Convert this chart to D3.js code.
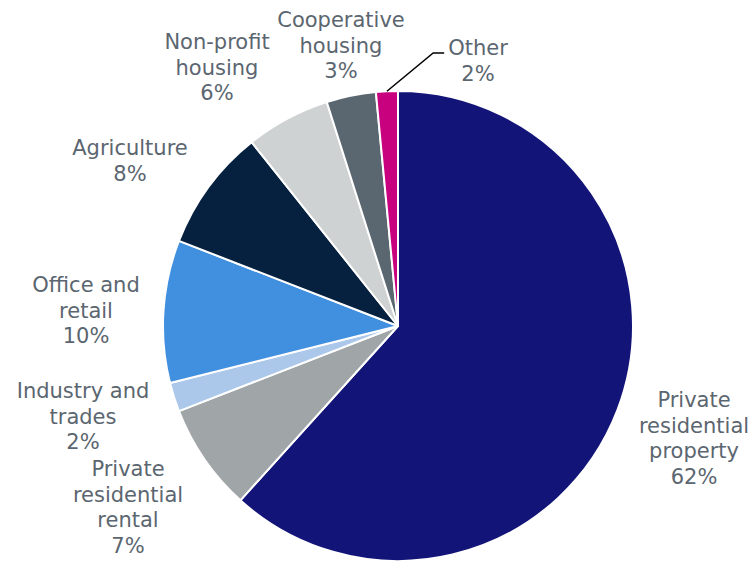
<!DOCTYPE html>
<html>
<head>
<meta charset="utf-8">
<script src="https://cdn.jsdelivr.net/npm/d3@7"></script>
<style>
  html, body { margin: 0; padding: 0; background: #fff; }
  svg { display: block; }
</style>
</head>
<body>
<svg id="chart" width="754" height="562"></svg>
<script>
// Share of buildings by owner category (per cent), clockwise from 12 o'clock
const categories = [
  "Private residential property",
  "Private residential rental",
  "Industry and trades",
  "Office and retail",
  "Agriculture",
  "Non-profit housing",
  "Cooperative housing",
  "Other"
];
const shares = [61.7, 7.4, 2.0, 9.8, 8.4, 5.8, 3.4, 1.5];
// Line breaks used for each category label
const labelLines = [
  ["Private", "residential", "property"],
  ["Private", "residential", "rental"],
  ["Industry and", "trades"],
  ["Office and", "retail"],
  ["Agriculture"],
  ["Non-profit", "housing"],
  ["Cooperative", "housing"],
  ["Other"]
];

// ---- layout & style ----
const sliceColors = ["#131478", "#a0a5a8", "#abc8ea", "#418fdf", "#06203f", "#cfd2d3", "#5b6770", "#c8017e"];
// label anchor (centre x, first baseline) relative to the pie centre
const labelAnchors = [
  [296, 81], [-270, 150], [-315, 72], [-312, -34],
  [-268, -171], [-181, -277], [-57, -299], [80, -271]
];
const leaderIndex = 7; // the thin slice gets a leader line

const width = 754, height = 562;
const cx = 398, cy = 326, radius = 235;
const fontSize = 21, lineHeight = 25.7;
const textColor = "#5b6670";

const svg = d3.select("#chart");
const g = svg.append("g").attr("transform", `translate(${cx},${cy})`);

const data = categories.map((c, i) => ({ name: c, value: shares[i], lines: labelLines[i], color: sliceColors[i] }));

const pie = d3.pie().value(d => d.value).sort(null);
const arcs = pie(data);
const arc = d3.arc().innerRadius(0).outerRadius(radius);

g.selectAll("path.slice")
  .data(arcs)
  .join("path")
  .attr("class", "slice")
  .attr("d", arc)
  .attr("fill", d => d.data.color)
  .attr("stroke", "#fff")
  .attr("stroke-width", 2)
  .attr("stroke-linejoin", "round");

// Category labels: name lines followed by the rounded percentage
arcs.forEach((a, i) => {
  const [ax, ay] = labelAnchors[i];
  const lines = a.data.lines.concat([Math.round(a.data.value) + "%"]);
  const label = g.append("text")
    .attr("font-family", "'DejaVu Sans', Verdana, sans-serif")
    .attr("font-size", fontSize)
    .attr("fill", textColor)
    .attr("text-anchor", "middle");
  lines.forEach((t, k) => {
    label.append("tspan").attr("x", ax).attr("y", ay + k * lineHeight).text(t);
  });

  if (i === leaderIndex) {
    const bb = label.node().getBBox();
    const mid = (a.startAngle + a.endAngle) / 2;
    const p0 = [Math.sin(mid) * radius, -Math.cos(mid) * radius];
    const p2 = [bb.x - 4, ay - 2];
    const p1 = [p2[0] - 11, p2[1]];
    g.append("polyline")
      .attr("points", [p0, p1, p2].map(p => p.join(",")).join(" "))
      .attr("fill", "none")
      .attr("stroke", "#000")
      .attr("stroke-width", 1.5);
  }
});
</script>
</body>
</html>
